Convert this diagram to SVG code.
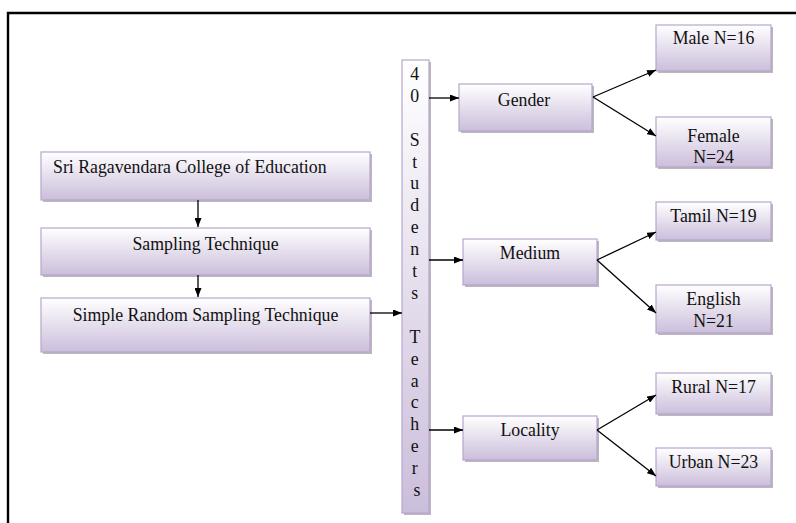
<svg xmlns="http://www.w3.org/2000/svg" width="796" height="523" viewBox="0 0 796 523">
<defs>
<linearGradient id="g" x1="0" y1="0" x2="0" y2="1">
<stop offset="0" stop-color="#ffffff"/>
<stop offset="1" stop-color="#cbbedb"/>
</linearGradient>
<marker id="ah" markerWidth="9" markerHeight="7" refX="9" refY="3.5" orient="auto" markerUnits="userSpaceOnUse">
<path d="M0,0 L9,3.5 L0,7 Z" fill="#000"/>
</marker>
</defs>
<style>
.bx{fill:url(#g);stroke:#b7a6cd;stroke-width:1.2}
.sh{fill:#9d99a3;opacity:0.7}
.t{font-family:"Liberation Serif","DejaVu Serif",serif;font-size:17.8px;fill:#111}
.m{text-anchor:middle}
.c{stroke:#000;stroke-width:1.3;fill:none;marker-end:url(#ah)}
</style>
<rect width="796" height="523" fill="#fff"/>
<path d="M8,523 L8,13 L796,13" fill="none" stroke="#000" stroke-width="2.4"/>

<g id="college">
<rect class="sh" x="43" y="154" width="329" height="48"/>
<rect class="bx" x="41" y="152" width="329" height="48"/>
<text class="t" x="53" y="173">Sri Ragavendara College of Education</text>
</g>
<g id="sampling">
<rect class="sh" x="43" y="230" width="329" height="47"/>
<rect class="bx" x="41" y="228" width="329" height="47"/>
<text class="t m" x="205.5" y="250">Sampling Technique</text>
</g>
<g id="simple">
<rect class="sh" x="43" y="300" width="329" height="54"/>
<rect class="bx" x="41" y="298" width="329" height="54"/>
<text class="t m" x="205.5" y="321">Simple Random Sampling Technique</text>
</g>
<g id="students">
<rect class="sh" x="404" y="62" width="27" height="453"/>
<rect class="bx" x="402" y="60" width="27" height="453"/>
<text class="t m" x="417">
<tspan x="417" y="80">4</tspan>
<tspan x="417" y="101.8">0</tspan>
<tspan x="417" y="145.6">S</tspan>
<tspan x="417" y="167.5">t</tspan>
<tspan x="417" y="189.4">u</tspan>
<tspan x="417" y="211.3">d</tspan>
<tspan x="417" y="233.2">e</tspan>
<tspan x="417" y="255.1">n</tspan>
<tspan x="417" y="277">t</tspan>
<tspan x="417" y="298.9">s</tspan>
<tspan x="417" y="342.7">T</tspan>
<tspan x="417" y="364.6">e</tspan>
<tspan x="417" y="386.5">a</tspan>
<tspan x="417" y="408.4">c</tspan>
<tspan x="417" y="430.3">h</tspan>
<tspan x="417" y="452.2">e</tspan>
<tspan x="417" y="474.1">r</tspan>
<tspan x="417" y="496">s</tspan>
</text>
</g>
<g id="gender">
<rect class="sh" x="461" y="86" width="133" height="47"/>
<rect class="bx" x="459" y="84" width="133" height="47"/>
<text class="t m" x="524" y="106">Gender</text>
</g>
<g id="medium">
<rect class="sh" x="465" y="241" width="134" height="46"/>
<rect class="bx" x="463" y="239" width="134" height="46"/>
<text class="t m" x="530" y="259">Medium</text>
</g>
<g id="locality">
<rect class="sh" x="465" y="418" width="134" height="44"/>
<rect class="bx" x="463" y="416" width="134" height="44"/>
<text class="t m" x="530" y="436">Locality</text>
</g>
<g id="male">
<rect class="sh" x="658" y="27" width="115" height="46"/>
<rect class="bx" x="656" y="25" width="115" height="46"/>
<text class="t m" x="713.5" y="44">Male N=16</text>
</g>
<g id="female">
<rect class="sh" x="658" y="119" width="115" height="50"/>
<rect class="bx" x="656" y="117" width="115" height="50"/>
<text class="t m" x="713.5" y="142">Female</text>
<text class="t m" x="713.5" y="163">N=24</text>
</g>
<g id="tamil">
<rect class="sh" x="658" y="204" width="115" height="38"/>
<rect class="bx" x="656" y="202" width="115" height="38"/>
<text class="t m" x="713.5" y="222">Tamil N=19</text>
</g>
<g id="english">
<rect class="sh" x="658" y="287" width="115" height="48"/>
<rect class="bx" x="656" y="285" width="115" height="48"/>
<text class="t m" x="713.5" y="305">English</text>
<text class="t m" x="713.5" y="327">N=21</text>
</g>
<g id="rural">
<rect class="sh" x="658" y="375" width="115" height="41"/>
<rect class="bx" x="656" y="373" width="115" height="41"/>
<text class="t m" x="713.5" y="393">Rural N=17</text>
</g>
<g id="urban">
<rect class="sh" x="658" y="450" width="115" height="38"/>
<rect class="bx" x="656" y="448" width="115" height="38"/>
<text class="t m" x="713.5" y="468">Urban N=23</text>
</g>

<g id="connectors">
<line class="c" x1="198" y1="200" x2="198" y2="227"/>
<line class="c" x1="198" y1="275" x2="198" y2="297"/>
<line class="c" x1="370" y1="313" x2="402" y2="313"/>
<line class="c" x1="429" y1="98" x2="459" y2="98"/>
<line class="c" x1="429" y1="260" x2="463" y2="260"/>
<line class="c" x1="429" y1="430" x2="463" y2="430"/>
<line class="c" x1="593" y1="97" x2="656" y2="70"/>
<line class="c" x1="593" y1="97" x2="656" y2="136"/>
<line class="c" x1="597" y1="260" x2="656" y2="232"/>
<line class="c" x1="597" y1="260" x2="656" y2="313"/>
<line class="c" x1="597" y1="430" x2="656" y2="395"/>
<line class="c" x1="597" y1="430" x2="656" y2="476"/>
</g>
</svg>
